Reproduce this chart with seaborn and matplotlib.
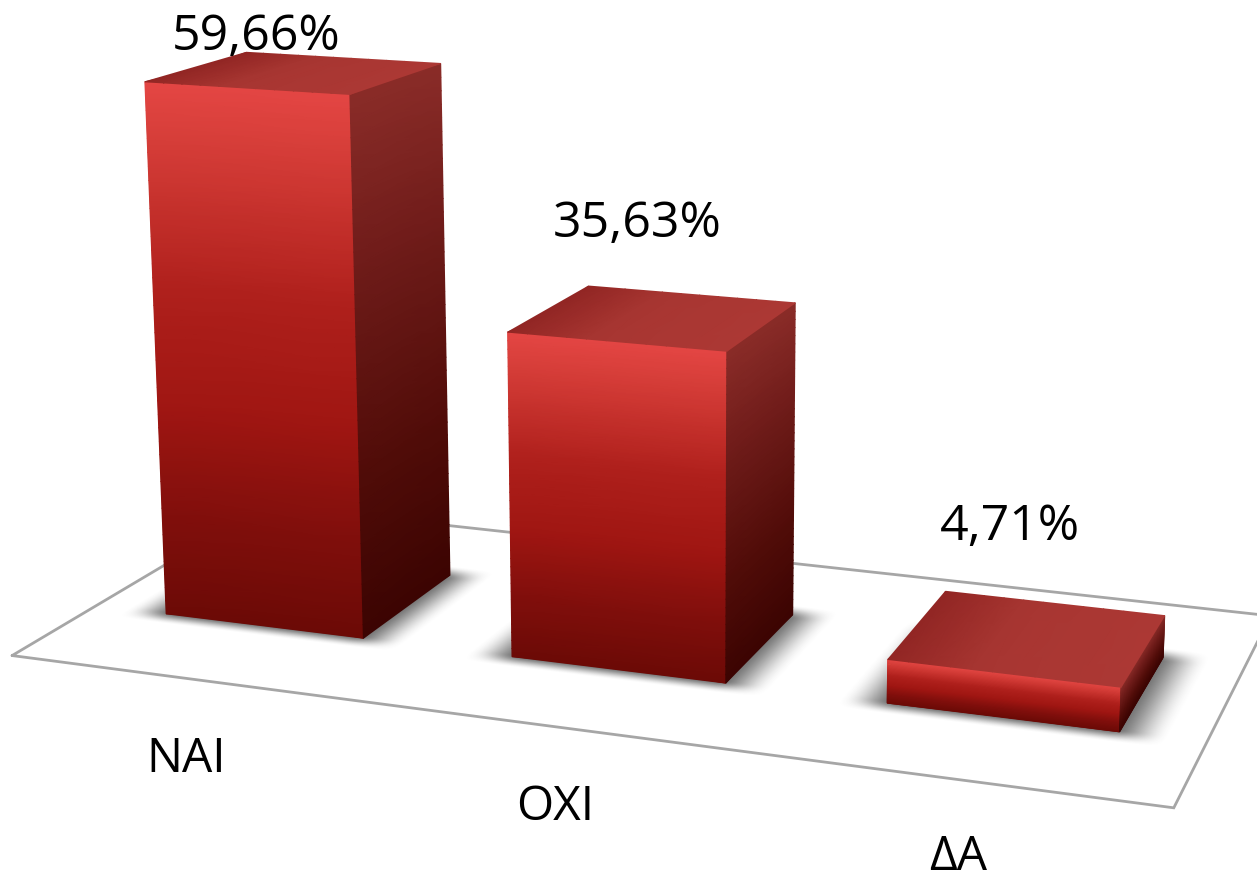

import numpy as np
import matplotlib
matplotlib.use("Agg")
import matplotlib.pyplot as plt
from matplotlib.colors import LinearSegmentedColormap, Normalize
from matplotlib.transforms import Transform
import seaborn as sns

categories = ["NAI", "OXI", "ΔA"]
values = [59.66, 35.63, 4.71]

sns.set_theme(style="white")
plt.rcParams["font.family"] = ["Open Sans", "DejaVu Sans"]

# Camera: (category position, depth, value) -> image pixel
CAMERA = np.array([[329.648934, 114.555964, -0.456945, 263.629458],
                   [17.432689, -25.300725, -9.073798, 625.882591],
                   [-0.039412, 0.064392, -0.000666, 1.0]])
FLOOR_X = (-0.5, 2.5)
FLOOR_D = (-0.76, 1.76)
WIDTH_PX, HEIGHT_PX = 1257, 875


def project(x, d, z):
    x, d, z = np.broadcast_arrays(x, d, z)
    h = np.stack([x, d, z, np.ones_like(x, dtype=float)], axis=-1) @ CAMERA.T
    return h[..., 0] / h[..., 2], h[..., 1] / h[..., 2]


class FrontFace(Transform):
    input_dims = output_dims = 2
    is_separable = False
    has_inverse = False

    def transform_non_affine(self, values):
        values = np.asarray(values, float)
        px, py = project(values[:, 0], 0.0, values[:, 1])
        return np.column_stack([px, py])


def ramp(name, stops):
    return LinearSegmentedColormap.from_list(
        name, [(t, tuple(c / 255 for c in rgb)) for t, rgb in stops])


front_cmap = ramp("front", [(0, (228, 70, 68)), (0.12, (212, 60, 55)), (0.38, (175, 32, 28)),
                           (0.6, (160, 22, 18)), (0.8, (130, 15, 12)), (1, (108, 10, 6))])
side_cmap = ramp("side", [(0, (138, 44, 40)), (0.3, (112, 28, 26)), (0.7, (80, 12, 8)), (1, (60, 4, 2))])
top_cmap = ramp("top", [(0, (146, 38, 36)), (0.4, (168, 54, 50)), (1, (172, 56, 52))])
unit = Normalize(0, 1)


def smooth(t):
    t = np.clip(t, 0, 1)
    return t * t * (3 - 2 * t)


fig = plt.figure(figsize=(12.57, 8.75), dpi=100)
ax = fig.add_axes([0, 0, 1, 1], zorder=1)
sns.barplot(x=categories, y=values, width=0.58, color="#9c1a16", saturation=1, ax=ax)
ax.set_axis_off()

# pixel-space overlay that carries the projected faces
px = fig.add_axes([0, 0, 1, 1], zorder=2)
px.set_axis_off()
px.patch.set_alpha(0)

# floor outline
corners_x = [FLOOR_X[0], FLOOR_X[1], FLOOR_X[1], FLOOR_X[0], FLOOR_X[0]]
corners_d = [FLOOR_D[0], FLOOR_D[0], FLOOR_D[1], FLOOR_D[1], FLOOR_D[0]]
fx, fy = project(np.array(corners_x), np.array(corners_d), 0.0)
px.plot(fx, fy, color="#a6a6a6", lw=2.0, solid_joinstyle="miter", zorder=1)

# floor coordinates of every image pixel, for the soft contact shadows
floor_inv = np.linalg.inv(CAMERA[:, [0, 1, 3]])
U, V = np.meshgrid(np.arange(WIDTH_PX) + 0.5, np.arange(HEIGHT_PX) + 0.5)
fh = np.stack([U, V, np.ones_like(U)], axis=-1) @ floor_inv.T
FX, FD = fh[..., 0] / fh[..., 2], fh[..., 1] / fh[..., 2]
shadow = np.zeros_like(U)

front_tf = FrontFace() + px.transData

for patch in ax.patches:
    l = patch.get_x()
    r = l + patch.get_width()
    v = patch.get_height()
    patch.set_transform(front_tf)
    patch.set_linewidth(0)

    a = (smooth((FX - (l - 0.12)) / 0.15) * smooth(((r + 0.12) - FX) / 0.15)
         * smooth((FD - (-0.13)) / 0.16) * smooth((1.14 - FD) / 0.20))
    shadow = np.maximum(shadow, a)

    tt = np.linspace(0, 1, 40)
    ss = np.array([0.0, 1.0])
    S, T = np.meshgrid(ss, tt)

    # front face
    X, Y = project(l + (r - l) * S, 0.0, v * (1 - T))
    px.pcolormesh(X, Y, T, shading="gouraud", cmap=front_cmap, norm=unit, zorder=4)
    # right side face
    X, Y = project(r, S, v * (1 - T))
    px.pcolormesh(X, Y, T, shading="gouraud", cmap=side_cmap, norm=unit, zorder=4)
    # top face
    S2, T2 = np.meshgrid(np.linspace(0, 1, 12), ss)
    X, Y = project(l + (r - l) * S2, T2, v)
    px.pcolormesh(X, Y, S2, shading="gouraud", cmap=top_cmap, norm=unit, zorder=4)

rgba = np.zeros(shadow.shape + (4,))
rgba[..., :3] = 0.25
rgba[..., 3] = 0.8 * shadow
px.imshow(rgba, extent=(0, WIDTH_PX, HEIGHT_PX, 0), origin="upper", interpolation="nearest",
          zorder=2, aspect="auto")

fmt = [f"{v:.2f}".replace(".", ",") + "%" for v in values]
for txt, (tx, ty) in zip(fmt, [(256, 50), (637, 237), (1010, 540)]):
    px.text(tx, ty, txt, ha="center", va="baseline", fontsize=36, color="black", zorder=6)
for txt, (tx, ty) in zip(categories, [(186, 772), (555, 820), (958, 870)]):
    px.text(tx, ty, txt, ha="center", va="baseline", fontsize=34.5, color="black", zorder=6)

px.set_xlim(0, WIDTH_PX)
px.set_ylim(HEIGHT_PX, 0)
fig.savefig("out.png", dpi=100, facecolor="white")
